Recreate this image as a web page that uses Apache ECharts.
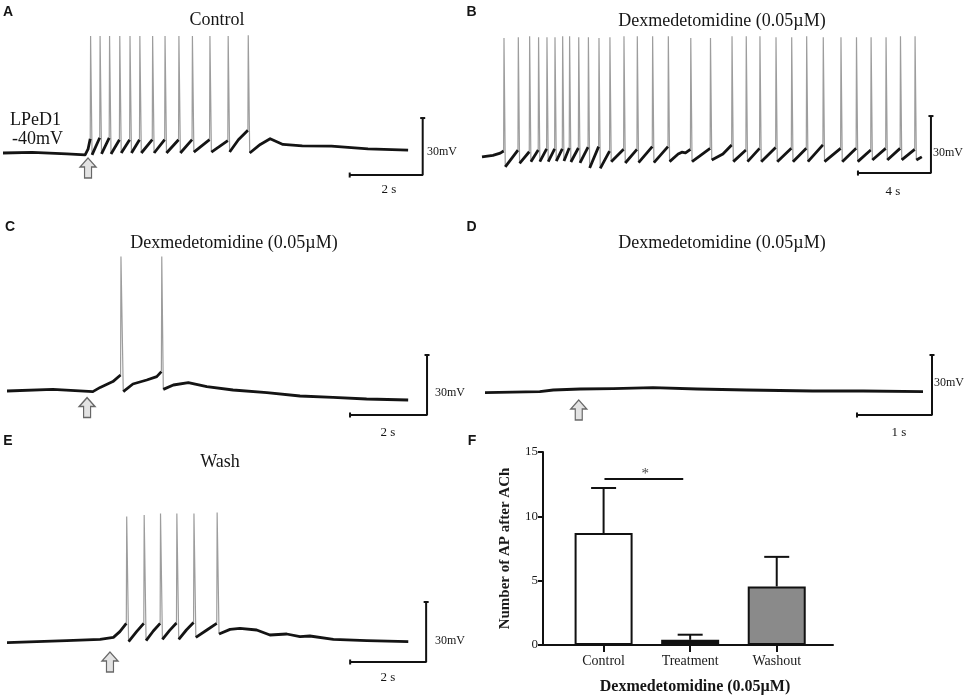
<!DOCTYPE html>
<html>
<head>
<meta charset="utf-8">
<script src="https://cdn.jsdelivr.net/npm/echarts@6/dist/echarts.min.js"></script>
<style>
  html, body { margin: 0; background: #fff; }
  #chart { width: 964px; height: 697px; }
</style>
</head>
<body>
<div id="chart"></div>
<script>
// ---- A: control (t in s, V in mV) ----
const spikesA = [[2.40, 21.6], [2.66, 21.6], [2.92, 21.6], [3.20, 21.6], [3.48, 21.6], [3.75, 21.6], [4.10, 21.6],
  [4.44, 21.6], [4.82, 21.6], [5.19, 21.6], [5.67, 21.6], [6.17, 21.6], [6.72, 22]]
const traceA = [[0, -40], [0.8, -39.7], [1.75, -40.5], [2.25, -41], [2.33, -38], [2.39, -32.5],
  [2.44, -41], [2.65, -32], [2.70, -40.5], [2.91, -32], [2.96, -40.5], [3.19, -33], [3.24, -40], [3.47, -33],
  [3.52, -40], [3.74, -33], [3.79, -40], [4.09, -33], [4.14, -40], [4.43, -33], [4.48, -40], [4.81, -33],
  [4.86, -40], [5.18, -33], [5.23, -39.5], [5.66, -33], [5.71, -39.5], [6.16, -33.5], [6.21, -39.5], [6.45, -33], [6.71, -28],
  [6.76, -40], [7.05, -35.5], [7.32, -32.5], [7.67, -35.5], [8.2, -36.2], [9.0, -36.4], [10.0, -37.8], [11.1, -38.5]]
const scaleA = [[9.5, -51.6], [11.5, -51.6], [11.5, -21.6]]
const achA = [[2.33, -47.9]]

// ---- B: dexmedetomidine, spontaneous firing ----
const spikesB = [[1.205, 21.6], [1.99, 22], [2.61, 22.5], [3.10, 22], [3.56, 22], [4.00, 22], [4.42, 22.5], [4.80, 22.5],
  [5.30, 22], [5.83, 22], [6.41, 21.6], [7.01, 22], [7.78, 22.5], [8.51, 22.5], [9.35, 22.5], [10.21, 22.5],
  [11.44, 21.6], [12.52, 21.6], [13.70, 22.5], [14.48, 22.5], [15.23, 22.5], [16.11, 22], [16.97, 22], [17.79, 22.5],
  [18.70, 22], [19.67, 22], [20.52, 22], [21.32, 22], [22.14, 22], [22.93, 22.5], [23.73, 22.5]]
const traceB = [[0, -41], [0.6, -40.2], [1.0, -39], [1.185, -37.9],
  [1.275, -46.2], [1.97, -37.4], [2.06, -44.4], [2.59, -38.3], [2.68, -43.5], [3.08, -37.4], [3.17, -43.5], [3.54, -36.8],
  [3.63, -43.5], [3.98, -36.8], [4.07, -43.2], [4.40, -36.8], [4.49, -43.2], [4.78, -36.3], [4.87, -43.7], [5.28, -36.3],
  [5.37, -44.2], [5.81, -35.8], [5.90, -46.8], [6.39, -35.6], [6.48, -47], [6.99, -38], [7.08, -43.5], [7.76, -37],
  [7.85, -44.2], [8.49, -37], [8.58, -44], [9.33, -35.6], [9.42, -44], [10.19, -35.6],
  [10.28, -43.5], [10.75, -39.5], [10.95, -38.5], [11.15, -38.9], [11.42, -37],
  [11.51, -43.5], [12.50, -36.5], [12.59, -42.6], [13.2, -39.5], [13.68, -34.7], [13.77, -43.5], [14.46, -37.4],
  [14.55, -43.5], [15.21, -36.5], [15.30, -43.5], [16.09, -36], [16.18, -43.5], [16.95, -36.5], [17.04, -43.5], [17.77, -36.5],
  [17.86, -43.5], [18.68, -34.7], [18.77, -43.5], [19.65, -36.5], [19.74, -43.5], [20.50, -36.5], [20.59, -43.5], [21.30, -37.4],
  [21.39, -42.6], [22.12, -36.5], [22.21, -42.6], [22.91, -36.5], [23.00, -42.6], [23.71, -37],
  [23.80, -42.6], [24.1, -41]]
const scaleB = [[20.6, -49.5], [24.6, -49.5], [24.6, -19.5]]

// ---- C: dexmedetomidine + ACh ----
const spikesC = [[2.96, 27.2], [4.02, 27.2]]
const traceC = [[0, -40], [1.19, -39.2], [2.23, -40.3], [2.42, -38.2], [2.75, -35.3], [2.95, -32],
  [3.02, -40.3], [3.27, -36.5], [3.63, -34.5], [3.89, -32.8], [4.01, -30.3],
  [4.06, -39.2], [4.32, -37], [4.71, -35.8], [5.19, -37.8], [5.87, -39.5], [6.75, -40.8], [7.61, -42.5],
  [8.47, -43.2], [9.34, -44], [10.42, -44.5]]
const scaleC = [[8.91, -52], [10.91, -52], [10.91, -22]]
const achC = [[2.08, -48.3]]

// ---- D: dexmedetomidine, no firing ----
const spikesD = []
const traceD = [[0, -40.3], [0.73, -39.8], [0.91, -39], [1.27, -38.5], [1.71, -38.3], [2.24, -37.8],
  [2.83, -38.5], [3.49, -39], [4.37, -39.5], [5.04, -39.5], [5.84, -39.8]]
const scaleD = [[4.96, -51.5], [5.96, -51.5], [5.96, -21.5]]
const achD = [[1.25, -49]]

// ---- E: wash ----
const spikesE = [[3.15, 22.7], [3.61, 23.5], [4.04, 24.3], [4.47, 24.3], [4.92, 24.3], [5.53, 24.7]]
const traceE = [[0, -40.3], [1.57, -39.3], [2.45, -38.7], [2.80, -37.7], [2.97, -34.8], [3.14, -30.7],
  [3.20, -39.8], [3.41, -34.8], [3.60, -30.7], [3.66, -39.3], [3.85, -34.5], [4.03, -30.7],
  [4.09, -38.7], [4.28, -34.2], [4.46, -30.5], [4.52, -38.7], [4.72, -34], [4.91, -30.3],
  [4.97, -37.7], [5.26, -34], [5.52, -30.7], [5.58, -36], [5.87, -33.7], [6.13, -33.2], [6.57, -34],
  [6.92, -36.5], [7.36, -36], [7.71, -37.3], [7.97, -37], [8.59, -38.7], [9.47, -39.3], [10.56, -39.8]]
const scaleE = [[9.03, -50], [11.03, -50], [11.03, -20]]
const achE = [[2.71, -50]]

// ---- F: number of AP after ACh ----
const apGroups = ['Control', 'Treatment', 'Washout']
const apMean = [8.7, 0.4, 4.55]
const apSem = [3.5, 0.4, 2.3]
const sigLine = [[1.01, 12.9], [1.92, 12.9]]
const sigStar = [[1.48, 13.25]]

const serif = '"Liberation Serif", "DejaVu Serif", serif'
const sans = '"Liberation Sans", Arial, sans-serif'
const arrowPath = 'path://M8,0L16,9L11.5,9L11.5,20L4.5,20L4.5,9L0,9Z'

// trace panels: [left, top, width, height, tMax, vMin, vMax]
const panels = [
  [3, 29.5, 427, 152, 11.7, -55, 25],
  [482, 31.5, 456.25, 152, 25, -55, 25],
  [7, 241, 438.9, 180, 11.4, -55, 35],
  [485, 242, 465, 180, 6.2, -55, 35],
  [7, 492, 433.2, 180, 11.4, -55, 35]
]

// black slow trace breaks at every spike, grey spike goes pre -> peak -> trough
function splitTrace(points, spikes) {
  let slow = [], fast = []
  let k = 0
  points.forEach((p, i) => {
    if (k < spikes.length && i > 0 && p[0] > spikes[k][0]) {
      fast.push(points[i - 1], spikes[k], p, null)
      slow.push(null)
      k++
    }
    slow.push(p)
  })
  return { slow, fast }
}

function traceSeries(i, points, spikes, scale, ach) {
  let { slow, fast } = splitTrace(points, spikes)
  let base = { xAxisIndex: i, yAxisIndex: i, silent: true, animation: false }
  let list = [
    { ...base, type: 'line', data: fast, symbol: 'none', lineStyle: { color: '#9d9d9d', width: 1.2 } },
    { ...base, type: 'line', data: slow, symbol: 'none', lineStyle: { color: '#141414', width: 2.8, join: 'round' } },
    {
      ...base, type: 'line', showSymbol: true, symbol: 'none',
      data: scale.map((p, k) => ({
        value: p,
        symbol: k === 1 ? 'none' : 'rect',
        symbolSize: k === 0 ? [2, 5] : [5, 2]
      })),
      lineStyle: { color: '#111', width: 2 },
      itemStyle: { color: '#111' }
    }
  ]
  if (ach) {
    list.push({
      ...base, type: 'scatter', data: ach, symbol: arrowPath, symbolSize: [16, 20],
      itemStyle: { color: '#dcdcdc', borderColor: '#454545', borderWidth: 1.3 }
    })
  }
  return list
}

const grids = panels.map(p => ({ left: p[0], top: p[1], width: p[2], height: p[3], outerBoundsMode: 'none' }))
grids.push({ left: 543, top: 452, width: 290, height: 193, outerBoundsMode: 'none' })

const xAxes = panels.map((p, i) => ({ gridIndex: i, type: 'value', min: 0, max: p[4], show: false }))
const yAxes = panels.map((p, i) => ({ gridIndex: i, type: 'value', min: p[5], max: p[6], show: false }))

xAxes.push({
  gridIndex: 5, type: 'value', min: 0.3, max: 3.65,
  axisLine: { onZero: false, lineStyle: { color: '#111', width: 2 } },
  axisTick: { customValues: [1, 2, 3], length: 7, lineStyle: { color: '#111', width: 2 } },
  axisLabel: {
    customValues: [1, 2, 3],
    formatter: v => apGroups[Math.round(v) - 1],
    fontFamily: serif, fontSize: 14, color: '#1a1a1a', margin: 9
  },
  splitLine: { show: false }
})
yAxes.push({
  gridIndex: 5, type: 'value', min: 0, max: 15, interval: 5,
  axisLine: { show: true, onZero: false, lineStyle: { color: '#111', width: 2 } },
  axisTick: { show: true, length: 5, lineStyle: { color: '#111', width: 2 } },
  axisLabel: { fontFamily: serif, fontSize: 13, color: '#1a1a1a', margin: 5 },
  splitLine: { show: false },
  name: 'Number of AP after ACh', nameLocation: 'middle', nameGap: 30, nameRotate: 90,
  nameTextStyle: { fontFamily: serif, fontSize: 15, fontWeight: 'bold', color: '#1a1a1a' }
})

let series = [
  ...traceSeries(0, traceA, spikesA, scaleA, achA),
  ...traceSeries(1, traceB, spikesB, scaleB, null),
  ...traceSeries(2, traceC, spikesC, scaleC, achC),
  ...traceSeries(3, traceD, spikesD, scaleD, achD),
  ...traceSeries(4, traceE, spikesE, scaleE, achE)
]

const barFill = ['#ffffff', '#111111', '#8a8a8a']
series.push({
  type: 'bar', xAxisIndex: 5, yAxisIndex: 5, barWidth: 58, animation: false,
  data: apMean.map((v, k) => ({ value: [k + 1, v], itemStyle: { color: barFill[k] } })),
  itemStyle: { borderColor: '#111', borderWidth: 2 }
})
series.push({
  type: 'custom', xAxisIndex: 5, yAxisIndex: 5, animation: false,
  data: apMean.map((v, k) => [k + 1, v, apSem[k]]),
  encode: { x: 0, y: 1 },
  renderItem(params, api) {
    let x = api.value(0), m = api.value(1), e = api.value(2)
    let p0 = api.coord([x, m])
    let p1 = api.coord([x, m + e])
    let st = { stroke: '#111', lineWidth: 2 }
    return {
      type: 'group',
      children: [
        { type: 'line', shape: { x1: p0[0], y1: p0[1], x2: p1[0], y2: p1[1] }, style: st },
        { type: 'line', shape: { x1: p1[0] - 12.5, y1: p1[1], x2: p1[0] + 12.5, y2: p1[1] }, style: st }
      ]
    }
  }
})
series.push({
  type: 'line', xAxisIndex: 5, yAxisIndex: 5, data: sigLine, symbol: 'none', animation: false,
  lineStyle: { color: '#111', width: 2 }
})
series.push({
  type: 'scatter', xAxisIndex: 5, yAxisIndex: 5, data: sigStar, symbolSize: 1, animation: false,
  itemStyle: { color: 'rgba(0,0,0,0)' },
  label: { show: true, position: 'inside', formatter: '*', fontFamily: serif, fontSize: 15, color: '#111' }
})

function txt(text, x, y, font, align) {
  return {
    type: 'text', x, y, silent: true,
    style: { text, font, fill: '#151515', align: align || 'center', verticalAlign: 'middle' }
  }
}
const t18 = '18px ' + serif
const t12 = '12px ' + serif
const t13 = '13px ' + serif
const lab = 'bold 14px ' + sans

const graphics = [
  txt('A', 8, 12, lab), txt('B', 471.5, 12, lab), txt('C', 10, 227.5, lab),
  txt('D', 471.5, 227.5, lab), txt('E', 8, 441, lab), txt('F', 472, 441, lab),
  txt('Control', 217, 20, t18), txt('Dexmedetomidine (0.05µM)', 722, 21, t18),
  txt('Dexmedetomidine (0.05µM)', 234, 243, t18), txt('Dexmedetomidine (0.05µM)', 722, 243, t18),
  txt('Wash', 220, 462, t18),
  txt('LPeD1', 10, 120, t18, 'left'), txt('-40mV', 12, 139, t18, 'left'),
  txt('30mV', 427, 152, t12, 'left'), txt('2 s', 389, 190, t13),
  txt('30mV', 933, 153, t12, 'left'), txt('4 s', 893, 192, t13),
  txt('30mV', 435, 393, t12, 'left'), txt('2 s', 388, 433, t13),
  txt('30mV', 934, 383, t12, 'left'), txt('1 s', 899, 433, t13),
  txt('30mV', 435, 641, t12, 'left'), txt('2 s', 388, 678, t13),
  txt('Dexmedetomidine (0.05µM)', 695, 687, 'bold 16px ' + serif)
]

const chart = echarts.init(document.getElementById('chart'))
chart.setOption({
  backgroundColor: '#fff',
  animation: false,
  grid: grids,
  xAxis: xAxes,
  yAxis: yAxes,
  series,
  graphic: graphics
})
</script>
</body>
</html>
